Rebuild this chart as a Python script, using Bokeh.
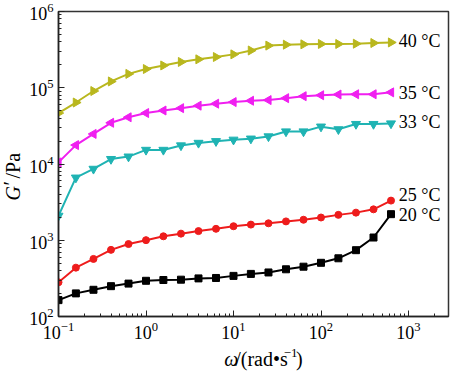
import numpy as np
from bokeh.plotting import figure
from bokeh.layouts import row, column
from bokeh.models import Range1d, ColumnDataSource
from bokeh.core.properties import value
from bokeh.embed import file_html
from bokeh.resources import INLINE

# angular frequency (rad/s)
omega = [0.1, 0.158, 0.251, 0.398, 0.631, 1.0, 1.58, 2.51, 3.98, 6.31,
         10.0, 15.8, 25.1, 39.8, 63.1, 100.0, 158.0, 251.0, 398.0, 631.0]

# storage modulus G' (Pa) at each temperature
g40 = [46500, 64000, 90600, 121000, 152000, 176000, 196000, 218000, 236000, 253000,
       274000, 308000, 357000, 367000, 371000, 375000, 375000, 378000, 386000, 393000]
g35 = [10500, 17700, 24800, 34700, 41000, 46600, 50300, 54000, 58200, 61800,
       64900, 67500, 68900, 73000, 77500, 79800, 81500, 82200, 82200, 87000]
g33 = [2090, 6620, 8630, 11600, 12500, 15300, 15300, 17500, 18900, 19900,
       20800, 21500, 23000, 26700, 26700, 30900, 28500, 33400, 33400, 34000]
g25 = [281, 437, 569, 748, 892, 1003, 1127, 1221, 1318, 1413,
       1527, 1604, 1668, 1767, 1857, 1987, 2152, 2303, 2543, 3311]
g20 = [164, 201, 224, 250, 270, 294, 301, 304, 316, 320,
       341, 362, 378, 416, 450, 506, 580, 741, 1086, 2198]

labels = ["40 °C", "35 °C", "33 °C", "25 °C", "20 °C"]
label_x = [774, 774, 774, 774, 774]
label_y = [413000, 84600, 36000, 3870, 2150]

SERIF = "Liberation Serif"

W, H = 450, 372
YW = 24          # width of the strip holding the y title
MH = 346         # height of the main plot

p = figure(width=W - YW, height=MH, x_axis_type="log", y_axis_type="log",
           x_range=Range1d(0.1, 2864), y_range=Range1d(100, 1e6),
           output_backend="svg", toolbar_location=None,
           min_border_left=34, min_border_right=2, min_border_top=11, min_border_bottom=30)
p.xgrid.visible = False
p.ygrid.visible = False
p.outline_line_color = "#333333"
p.outline_line_width = 1.5

for ax in (p.xaxis[0], p.yaxis[0]):
    ax.axis_line_color = "#222222"
    ax.axis_line_width = 1.5
    ax.major_tick_in = 6
    ax.major_tick_out = 0
    ax.minor_tick_in = 3
    ax.minor_tick_out = 0
    ax.major_tick_line_color = "#222222"
    ax.minor_tick_line_color = "#222222"
    ax.major_label_text_font = SERIF
    ax.major_label_text_font_size = "18px"
    ax.major_label_text_color = "black"
p.xaxis.major_label_standoff = 5
p.yaxis.major_label_standoff = 5

series = [
    (g40, "#b9b71e", "triangle", -np.pi / 2, 9),
    (g35, "#f01ff0", "triangle", np.pi / 2, 9),
    (g33, "#1fb3b3", "inverted_triangle", 0.0, 9),
    (g25, "#ee1c1c", "circle", 0.0, 7),
    (g20, "#000000", "square", 0.0, 7),
]
for ys, col, mk, ang, sz in series:
    src = ColumnDataSource(dict(x=omega, y=ys))
    p.line("x", "y", source=src, line_color=col, line_width=2)
    p.scatter("x", "y", source=src, marker=mk, angle=ang, size=sz,
              fill_color=col, line_color=col)

lsrc = ColumnDataSource(dict(x=label_x, y=label_y, t=labels))
p.text("x", "y", text="t", source=lsrc, text_font=value(SERIF),
       text_font_size="18px", text_align="left", text_baseline="middle",
       text_color="black")


def strip(width, height):
    f = figure(width=width, height=height, x_range=Range1d(0, width), y_range=Range1d(0, height),
               output_backend="svg", toolbar_location=None,
               x_axis_location=None, y_axis_location=None, min_border=0)
    f.xgrid.visible = False
    f.ygrid.visible = False
    f.outline_line_color = None
    return f


TS = "20px"

# x-axis title strip: ω/(rad•s^-1)
xf = strip(W - YW, H - MH)
S = 181
yc = 14
xf.text([S], [yc], text=["ω"], text_font=value(SERIF), text_font_style="italic",
        text_font_size=TS, text_align="left", text_baseline="middle")
xf.text([S + 12], [yc], text=["/(rad•s"], text_font=value(SERIF),
        text_font_size=TS, text_align="left", text_baseline="middle")
xf.text([S + 65], [yc + 6], text=["−1"], text_font=value(SERIF),
        text_font_size="13px", text_align="left", text_baseline="middle")
xf.text([S + 78.5], [yc], text=[")"], text_font=value(SERIF),
        text_font_size=TS, text_align="left", text_baseline="middle")

# y-axis title strip: G′/Pa (rotated)
yf = strip(YW, H)
yx = 12
y0 = H - 200
yf.text([yx], [y0], text=["G"], angle=np.pi / 2, text_font=value(SERIF),
        text_font_style="italic", text_font_size=TS,
        text_align="left", text_baseline="middle")
yf.text([yx - 2], [y0 + 15], text=["′"], angle=np.pi / 2, text_font=value(SERIF),
        text_font_size=TS, text_align="left", text_baseline="middle")
yf.text([yx], [y0 + 22], text=["/Pa"], angle=np.pi / 2, text_font=value(SERIF),
        text_font_size=TS, text_align="left", text_baseline="middle")

layout = row(yf, column(p, xf))
open("out.html", "w").write(file_html(layout, INLINE))
